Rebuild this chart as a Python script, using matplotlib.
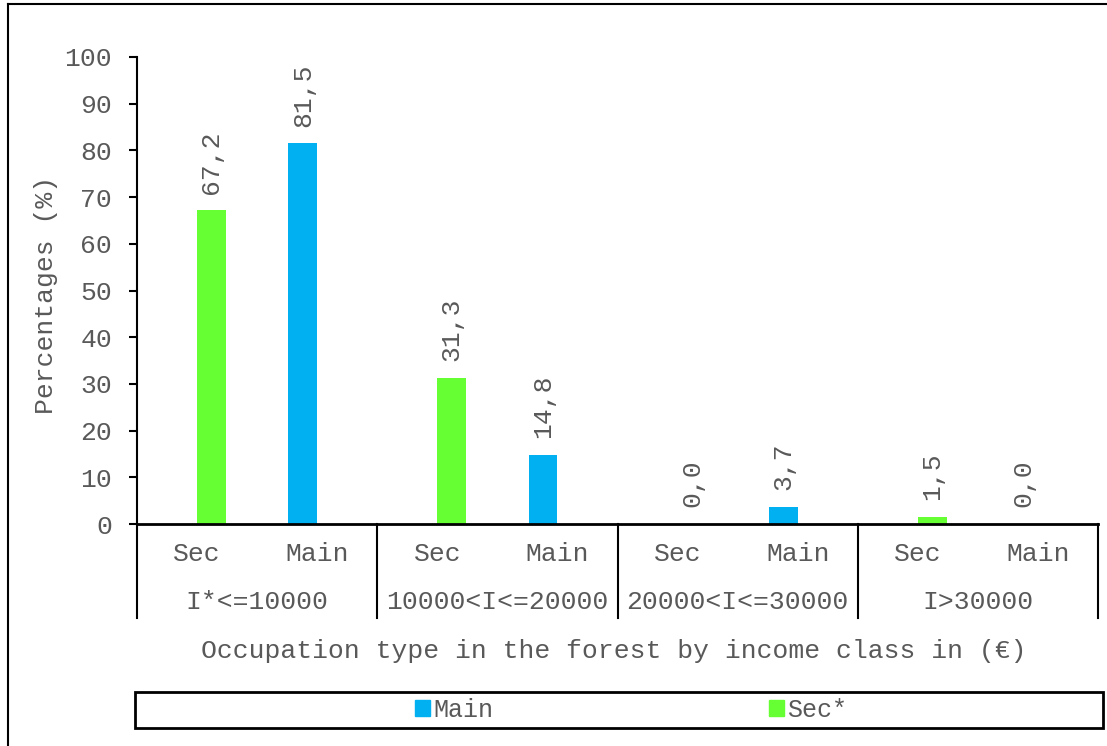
import matplotlib
matplotlib.use("Agg")
import matplotlib.pyplot as plt
from matplotlib.patches import Rectangle, Patch
from matplotlib.lines import Line2D

# data
groups = ["I*<=10000", "10000<I<=20000", "20000<I<=30000", "I>30000"]
sub_labels = ["Sec", "Main"]
sec_vals = [67.2, 31.3, 0.0, 1.5]    # Sec* series (shown in the "Sec" slot)
main_vals = [81.5, 14.8, 3.7, 0.0]   # Main series (shown in the "Main" slot)

c_main = "#00B0F0"
c_sec = "#66FF33"
grey = "#595959"
W, H = 1107, 746
fs = 19

plt.rcParams['font.family'] = ['Liberation Mono', 'DejaVu Sans Mono']
fig = plt.figure(figsize=(W / 100, H / 100), dpi=100)

# axes placed in pixel coords
x0, x1, ytop, ybot = 137, 1098, 57, 524
ax = fig.add_axes([x0 / W, 1 - ybot / H, (x1 - x0) / W, (ybot - ytop) / H])

bw = 0.24
off = 0.12
for g in range(len(groups)):
    s = 2 * g       # Sec slot
    m = 2 * g + 1   # Main slot
    ax.bar(s + off, sec_vals[g], width=bw, color=c_sec)
    ax.bar(m - off, main_vals[g], width=bw, color=c_main)
    for xx, v in [(s + off, sec_vals[g]), (m - off, main_vals[g])]:
        ax.annotate(f"{v:.1f}".replace('.', ','), (xx, v), xytext=(0, 12),
                    textcoords="offset points", rotation=90, ha="center",
                    va="bottom", fontsize=fs, color=grey)

ax.set_xlim(-0.5, 2 * len(groups) - 0.5)
ax.set_ylim(0, 100)
ax.set_yticks(range(0, 101, 10))
ax.tick_params(axis='y', labelsize=fs, labelcolor=grey, color="black",
               length=6, width=1.5, pad=12)
ax.set_xticks([])
for sp in ["top", "right"]:
    ax.spines[sp].set_visible(False)
ax.spines["left"].set_linewidth(1.5)
ax.spines["bottom"].set_linewidth(2)
ax.set_ylabel("Percentages (%)", fontsize=fs, color=grey)
ax.yaxis.set_label_coords(-0.082, 0.49)

# multi-level category axis
tr = ax.get_xaxis_transform()
yend = -(618 - ybot) / (ybot - ytop)
for k in range(len(groups) + 1):
    ax.add_line(Line2D([2 * k - 0.5] * 2, [0, yend], transform=tr,
                       color="black", lw=1.5, clip_on=False))
row1 = -(554 - ybot) / (ybot - ytop)
row2 = -(602 - ybot) / (ybot - ytop)
for g, name in enumerate(groups):
    for j, sl in enumerate(sub_labels):
        ax.text(2 * g + j, row1, sl, transform=tr, ha="center", va="center",
                fontsize=fs, color=grey)
    ax.text(2 * g + 0.5, row2, name, transform=tr, ha="center", va="center",
            fontsize=fs, color=grey)

fig.text(614 / W, 1 - 651 / H,
         "Occupation type in the forest by income class in (\u20ac)",
         ha="center", va="center", fontsize=fs, color=grey)

# legend box
fig.patches.append(Rectangle((135 / W, 1 - 728 / H), (1103 - 135) / W, 36 / H,
                             transform=fig.transFigure, fill=False,
                             edgecolor="black", lw=2))
handles = [Patch(color=c_main), Patch(color=c_sec)]
fig.legend(handles, ["Main", "Sec*"], loc="center", ncol=2,
           bbox_to_anchor=(631 / W, 1 - 710 / H), frameon=False,
           fontsize=18, handlelength=0.6, handleheight=0.6,
           handletextpad=0.15, columnspacing=11, labelcolor=grey)

# outer border (left and top visible)
fig.add_artist(Line2D([8 / W, 8 / W], [0, 1 - 4 / H], transform=fig.transFigure,
                      color="black", lw=1.5))
fig.add_artist(Line2D([8 / W, 1], [1 - 4 / H, 1 - 4 / H], transform=fig.transFigure,
                      color="black", lw=1.5))

fig.savefig("out.png", dpi=100, facecolor="white")
